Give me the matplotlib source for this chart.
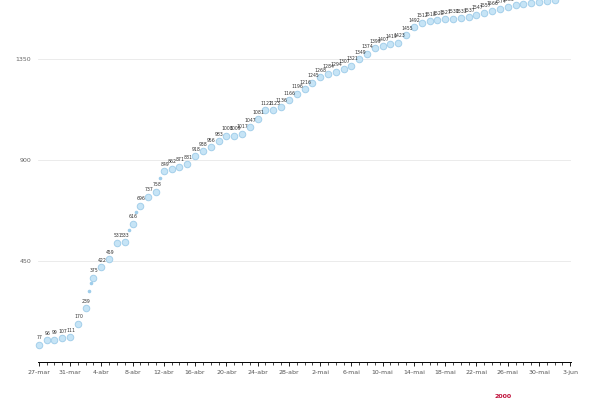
import numpy as np
import matplotlib.pyplot as plt
import matplotlib.dates as mdates
from datetime import date, timedelta

start = date(2020, 3, 27)

# casos acumulados por dia (27-mar em diante)
valores = [77, 96, 99, 107, 111, 170, 239, 375, 422, 459, 531, 533, 616, 696,
           737, 758, 849, 862, 871, 881, 918, 938, 956, 983, 1008, 1009, 1017,
           1047, 1081, 1122, 1123, 1136, 1166, 1196, 1216, 1245, 1268, 1284,
           1294, 1307, 1321, 1349, 1374, 1399, 1407, 1419, 1423, 1455, 1492,
           1512, 1518, 1522, 1527, 1530, 1533, 1537, 1547, 1557, 1566, 1574,
           1583, 1590, 1596, 1601, 1606, 1610, 1614]
dias = [start + timedelta(days=i) for i in range(len(valores))]

# atualizacoes intermedias (pontos pequenos, sem rotulo)
meio_dias = [6.45, 6.7, 11.5, 12.5, 15.5]
meio_valores = [318, 350, 590, 670, 820]

fig = plt.figure(figsize=(6, 4), dpi=100)
ax = fig.add_axes([38/600, 38/400, 533/600, 362/400])

ax.scatter(dias, valores, s=22, color='#c6e4f6', edgecolors='#a3cfea',
           linewidths=0.7, zorder=3, clip_on=False)
meio_x = [mdates.date2num(start) + d for d in meio_dias]
ax.scatter(meio_x, meio_valores, s=2.5, color='#9fcdea', zorder=3)

for d, v in zip(dias, valores):
    ax.annotate(str(v), (d, v), xytext=(0.5, 3.2), textcoords='offset points',
                ha='center', va='bottom', fontsize=3.3, color='#333333')

ax.set_ylim(0, 1613)
ax.set_xlim(mdates.date2num(start) - 0.1, mdates.date2num(date(2020, 6, 3)) + 0.1)

ax.set_yticks([450, 900, 1350])
ax.set_yticklabels(['450', '900', '1350'])
ax.grid(axis='y', color='#e8e8e8', linewidth=0.6)
ax.tick_params(axis='y', length=0, labelsize=4.5, labelcolor='#666666', pad=5)

maiores = [start + timedelta(days=4 * i) for i in range(18)]
mes = {3: 'mar', 4: 'abr', 5: 'mai', 6: 'jun'}
ax.set_xticks(maiores)
ax.set_xticklabels([f"{d.day}-{mes[d.month]}" for d in maiores])
ax.set_xticks([start + timedelta(days=i) for i in range(69)], minor=True)
ax.tick_params(axis='x', which='major', length=3, width=0.6, labelsize=4.5,
               labelcolor='#555555', pad=3)
ax.tick_params(axis='x', which='minor', length=2, width=0.5)

for s in ['top', 'right', 'left']:
    ax.spines[s].set_visible(False)
ax.spines['bottom'].set_linewidth(0.7)
ax.set_axisbelow(True)

fig.text(503/600, 3/400, '2000', color='#c0103a', fontsize=4.5,
         fontweight='bold', ha='center', va='center')

fig.savefig('out.png', dpi=100)
